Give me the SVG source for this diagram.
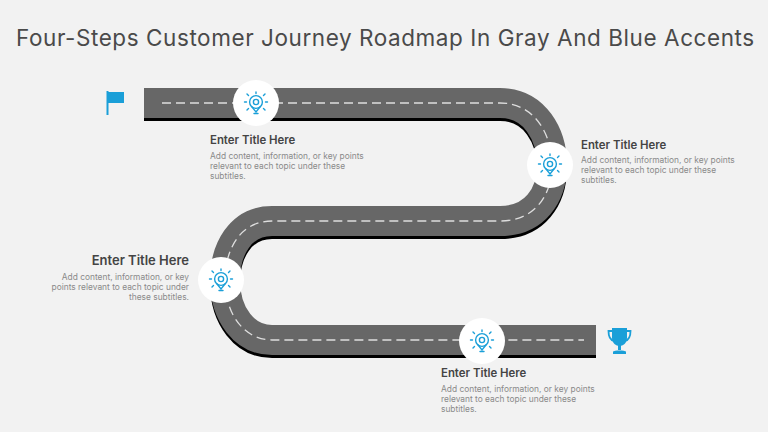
<svg xmlns="http://www.w3.org/2000/svg" width="768" height="432" viewBox="0 0 768 432">
<style>
text{font-family:"Inter","Open Sans","Liberation Sans",sans-serif}
.h{font-size:22.5px;fill:#4a4a4a;letter-spacing:.57px}
.t{font-size:11.400px;font-weight:600;fill:#444}
.tl{font-size:13px;font-weight:600;fill:#444}
.b{font-size:8.400px;fill:#8a8a8a}
.r{fill:none;stroke-linejoin:round}
.ic{fill:none;stroke:#1a9fd8;stroke-width:1.400;stroke-linecap:round}
.e{text-anchor:end}
</style>
<defs>
<path id="road" d="M144 103H500C535 103 552 135 552 165C552 195 535 221 500 221H272C240 221 225 250 225 280C225 315 245 340 272 340H596"/>
<g id="bulb">
<circle cx="0" cy="-1" r="6.400" class="ic"/><circle cx="0" cy="-1" r="2.600" class="ic"/>
<path class="ic" d="M-4 4L0 9L4 4M-2 10.500H2M0-11V-9.500M-9-9L-7.500-7.500M9-9L7.500-7.500M-11.500-1H-9.500M11.500-1H9.500M-9 7L-7.500 5.500M9 7L7.500 5.500"/>
</g>
</defs>
<rect width="768" height="432" fill="#f2f2f2"/>
<text x="16" y="45.500" class="h">Four-Steps Customer Journey Roadmap In Gray And Blue Accents</text>
<g id="connectors">
<use href="#road" class="r" stroke="#000" stroke-width="30" transform="translate(0 3)"/>
<use href="#road" class="r" stroke="#676767" stroke-width="30"/>
<path class="r" stroke="#dedede" stroke-width="1.300" stroke-dasharray="9 5" d="M162 103H500C535 103 552 135 552 165C552 195 535 221 500 221H272C240 221 225 250 225 280C225 315 245 340 272 340H584"/>
</g>
<g id="start-flag"><path d="M107.500 91V115" stroke="#1a9fd8" stroke-width="2" fill="none"/><path d="M108 92H124V103H108Z" fill="#1a9fd8"/></g>
<g id="step-1"><circle cx="256" cy="103" r="23" fill="#fff"/><use href="#bulb" x="256" y="103"/>
<text x="210" y="144" class="t">Enter Title Here</text>
<text x="210" y="159" class="b">Add content, information, or key points</text><text x="210" y="169" class="b">relevant to each topic under these</text><text x="210" y="179" class="b">subtitles.</text></g>
<g id="step-2"><circle cx="550" cy="165" r="23" fill="#fff"/><use href="#bulb" x="550" y="165"/>
<text x="581" y="149" class="t">Enter Title Here</text>
<text x="581" y="163" class="b">Add content, information, or key points</text><text x="581" y="173" class="b">relevant to each topic under these</text><text x="581" y="183" class="b">subtitles.</text></g>
<g id="step-3"><circle cx="221" cy="280" r="23" fill="#fff"/><use href="#bulb" x="221" y="280"/>
<text x="189" y="265" class="tl e">Enter Title Here</text>
<text x="189" y="280" class="b e">Add content, information, or key</text><text x="189" y="290" class="b e">points relevant to each topic under</text><text x="189" y="300" class="b e">these subtitles.</text></g>
<g id="step-4"><circle cx="482" cy="341" r="23" fill="#fff"/><use href="#bulb" x="482" y="341"/>
<text x="441" y="377" class="t">Enter Title Here</text>
<text x="441" y="392" class="b">Add content, information, or key points</text><text x="441" y="402" class="b">relevant to each topic under these</text><text x="441" y="412" class="b">subtitles.</text></g>
<g id="end-trophy"><path d="M612 328H627V338C627 343 623 346 619.500 346C616 346 612 343 612 338Z" fill="#1a9fd8"/><path d="M612 331H608.500C608.500 337 610 340 614 341M627 331H630.500C630.500 337 629 340 625 341" fill="none" stroke="#1a9fd8" stroke-width="1.800"/><path d="M618 345H621V350H618ZM613 351.500C614 350 625 350 626 351.500V354H613Z" fill="#1a9fd8"/></g>
</svg>
